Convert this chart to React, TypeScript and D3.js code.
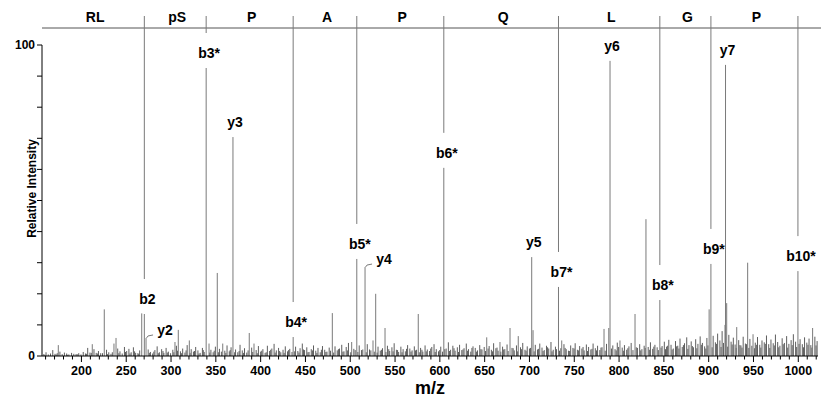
import React from "react";
import * as d3 from "d3";

// ---- data ----
const residues = ["RL", "pS", "P", "A", "P", "Q", "L", "G", "P"];
const bNames = ["b2", "b3*", "b4*", "b5*", "b6*", "b7*", "b8*", "b9*", "b10*"];
const bMz = [270.2, 339.2, 436.3, 507.3, 604.4, 732.4, 845.5, 902.5, 999.6];
const bInt = [13.5, 92.6, 6.1, 31.2, 60.5, 22.2, 18.0, 29.6, 27.3];

const yNames = ["y2", "y3", "y4", "y5", "y6", "y7"];
const yMz = [272.1, 369.1, 516.5, 702.5, 789.9, 918.8];
const yInt = [5.8, 70.4, 28.6, 31.8, 94.9, 93.6];
const yLeader = [true, false, true, false, false, false];

const otherPeaks: [number, number][] = [
  [174.2, 3.5], [212.1, 3.8], [225.5, 15], [236.3, 4], [238.6, 5.8], [267.3, 13.7],
  [304.4, 4.5], [308.1, 8.4], [320.4, 5], [342.4, 4], [351.6, 26.7], [357.7, 4],
  [387.3, 7.4], [392.6, 4], [480, 13.8], [501.6, 4.5], [525.4, 5], [528.4, 20],
  [538.8, 9], [575.9, 13.5], [652.3, 6], [667.1, 4.5], [678.3, 9], [687.5, 6.4],
  [704, 8.3], [736, 5], [783.2, 8.7], [788.5, 9], [801, 5], [817.8, 13.5], [830, 44],
  [900.5, 15], [918.2, 10], [920.1, 17], [931.3, 9.3], [943.5, 30], [949.5, 7], [1016, 9],
];

const noiseA: [number, number][] = [
  [158, 0.6], [160.5, 1.2], [163, 0.5], [165.5, 0.8], [168, 1.9], [170.5, 0.7], [173, 0.9], [176, 1.4],
  [178.5, 0.6], [181, 1.1], [183.5, 0.8], [186, 0.5], [189, 1.0], [191.5, 0.7], [194, 0.6], [197, 0.9],
  [199.5, 0.5], [202, 1.3], [204.5, 0.8], [207, 2.6], [209.5, 1.1], [214, 2.2], [216.5, 1.0], [219, 1.6],
  [221.5, 0.9], [228, 2.0], [230.5, 1.2], [233, 0.7], [240.5, 2.4], [243, 1.5], [245.5, 0.8], [248, 2.9],
  [250.5, 1.6], [253, 2.3], [255.5, 1.2], [258, 2.8], [260.5, 1.0], [263, 0.9], [265, 1.8], [274.5, 2.1],
  [277, 1.3], [279.5, 0.8], [282, 1.9], [284.5, 3.1], [287, 1.2], [289.5, 2.2], [292, 1.0], [294.5, 2.6],
  [297, 1.4], [299.5, 0.9],
];
const noiseB: [number, number][] = [
  [302, 2.0], [306, 3.3], [310.5, 1.5], [313, 2.4], [315.5, 1.1], [318, 3.5], [322.5, 2.2], [325, 1.4],
  [327.5, 2.9], [330, 1.8], [332.5, 1.0], [335, 2.6], [337, 1.3], [344.5, 2.0], [347, 1.2], [349.5, 3.0],
  [354, 2.3], [360, 1.7], [362.5, 3.4], [365, 1.5], [367, 2.8], [372, 2.1], [374.5, 1.2], [377, 3.6],
  [379.5, 1.8], [382, 2.5], [384.5, 1.1], [390, 2.7], [395, 1.9], [397.5, 3.2], [400, 1.4], [402.5, 2.2],
  [405, 1.0], [407.5, 3.3], [410, 1.6], [412.5, 2.4], [415, 3.9], [417.5, 1.8], [420, 2.6], [422.5, 1.2],
  [425, 2.0], [427.5, 3.1], [430, 1.5], [432.5, 2.3], [439, 3.0], [441.5, 1.6], [444, 2.5], [446.5, 4.0],
  [449, 1.9],
];
const noiseC: [number, number][] = [
  [451.5, 2.8], [454, 1.3], [456.5, 2.2], [459, 3.4], [461.5, 1.7], [464, 2.6], [466.5, 1.2], [469, 3.2],
  [471.5, 2.0], [474, 1.4], [476.5, 2.7], [483, 3.1], [485.5, 1.8], [488, 2.4], [490.5, 3.6], [493, 1.5],
  [495.5, 2.9], [498, 4.2], [504, 2.3], [510, 3.4], [512.5, 1.9], [519, 3.8], [521.5, 2.1], [531, 3.0],
  [533.5, 1.7], [536, 2.5], [541.5, 3.3], [544, 1.6], [546.5, 2.8], [549, 4.1], [551.5, 2.0], [554, 1.3],
  [556.5, 3.0], [559, 2.2], [561.5, 1.5], [564, 3.5], [566.5, 2.4], [569, 1.8], [571.5, 3.1], [574, 2.0],
  [578.5, 2.6], [581, 1.4], [583.5, 3.4], [586, 2.1], [588.5, 1.6], [591, 2.9], [593.5, 3.8], [596, 2.2],
  [598.5, 1.5], [601, 3.0], [607, 2.4], [609.5, 4.4], [612, 2.0], [614.5, 3.3], [617, 1.7], [619.5, 2.8],
  [622, 3.6], [624.5, 1.9], [627, 2.5], [629.5, 4.0], [632, 2.2], [634.5, 1.4], [637, 3.1], [639.5, 2.6],
  [642, 1.8], [644.5, 3.5], [647, 2.1], [649.5, 2.9],
];
const noiseD: [number, number][] = [
  [655, 3.2], [657.5, 2.0], [660, 4.1], [662.5, 2.5], [665, 1.7], [670, 3.0], [672.5, 2.2], [675, 3.7],
  [680.5, 2.6], [683, 1.8], [685.5, 3.4], [690, 2.8], [692.5, 4.2], [695, 2.0], [697.5, 3.1], [700, 2.4],
  [706.5, 3.6], [709, 2.1], [711.5, 4.0], [714, 2.7], [716.5, 1.9], [719, 3.3], [721.5, 2.4], [724, 4.5],
  [726.5, 2.0], [729, 3.0], [735, 2.5], [738.5, 3.8], [741, 2.2], [743.5, 1.7], [746, 3.4], [748.5, 2.6],
  [751, 4.1], [753.5, 2.0], [756, 3.2], [758.5, 2.4], [761, 1.8], [763.5, 3.7], [766, 2.9], [768.5, 2.1],
  [771, 4.0], [773.5, 2.5], [776, 3.3], [778.5, 1.9], [781, 2.8], [786, 3.9], [793, 3.4], [795.5, 2.2],
  [798, 4.3], [803.5, 2.7], [806, 3.5], [808.5, 2.0], [811, 3.1], [813.5, 4.2], [820.5, 2.6], [823, 3.8],
  [825.5, 2.2], [828, 3.3], [832.5, 2.9], [835, 4.4], [837.5, 2.3], [840, 3.6], [842.5, 2.8], [848, 3.2],
];
const noiseE: [number, number][] = [
  [850.5, 4.6], [853, 3.0], [855.5, 5.2], [858, 3.6], [860.5, 2.4], [863, 4.8], [865.5, 3.3], [868, 5.6],
  [870.5, 2.9], [873, 4.1], [875.5, 6.0], [878, 3.5], [880.5, 4.7], [883, 2.8], [885.5, 5.4], [888, 3.9],
  [890.5, 6.3], [893, 4.2], [895.5, 3.1], [898, 5.8], [905, 6.5], [907.5, 4.4], [910, 7.2], [912.5, 5.0],
  [915, 8.0], [922.5, 6.8], [925, 4.6], [927.5, 5.9], [929.5, 3.7], [933.5, 5.1], [936, 3.4], [938.5, 6.2],
  [941, 4.0], [946, 5.5], [952, 4.3], [954.5, 6.1], [957, 3.6], [959.5, 5.0], [962, 4.4], [964.5, 6.6],
  [967, 3.8], [969.5, 5.3], [972, 4.1], [974.5, 6.9], [977, 4.5], [979.5, 3.3], [982, 5.7], [984.5, 4.2],
  [987, 6.4], [989.5, 3.9], [992, 5.1], [994.5, 7.0], [997, 4.6], [1002, 5.4], [1004.5, 3.8], [1007, 6.0],
  [1009.5, 4.3], [1012, 5.6], [1014, 3.5], [1018.5, 6.2], [1021, 4.8],
];
// low "grass" between the noise peaks
const grass: [number, number][] = [
  [159.2, 0.4], [171.8, 0.5], [184.7, 0.4], [195.3, 0.6], [205.8, 0.7], [211, 1.0], [217.8, 0.8], [223.5, 0.9],
  [229.2, 0.6], [234.5, 1.2], [241.8, 0.9], [249.2, 1.3], [254.2, 0.8], [259.3, 1.5], [264, 0.7], [275.8, 1.0],
  [280.8, 1.4], [285.8, 0.9], [291, 1.6], [295.8, 1.1], [303.2, 1.2], [307.2, 1.7], [311.8, 0.9], [316.8, 1.8],
  [321.2, 1.0], [326.2, 1.6], [331.2, 0.8], [336, 1.9], [343.2, 1.1], [348.2, 1.7], [352.8, 1.2], [356.2, 1.4],
  [361.2, 1.0], [366, 1.9], [371, 1.2], [376, 1.6], [380.8, 1.0], [386, 1.8], [391.2, 1.3], [396.2, 0.9],
  [401.2, 1.7], [406.2, 1.2], [411.2, 2.0], [416.2, 1.1], [421.2, 1.6], [426.2, 1.0], [431.2, 1.9], [435, 1.3],
  [438, 1.5], [442.8, 1.1], [447.8, 2.1], [452.8, 1.2], [457.8, 1.8], [462.8, 1.0], [467.8, 2.0], [472.8, 1.3],
  [478, 1.7], [481.5, 1.1], [486.8, 2.2], [491.8, 1.4], [496.8, 1.8], [500.5, 1.2], [505.5, 1.9], [508.5, 1.3],
  [514, 2.1], [517.8, 1.2], [523, 1.8], [526.8, 1.4], [530, 1.1], [534.8, 2.0], [539.8, 1.3], [543, 2.2],
  [547.8, 1.5], [552.8, 1.9], [557.8, 1.2], [562.8, 2.3], [567.8, 1.4], [572.8, 1.8], [577, 1.2], [580, 2.0],
  [584.8, 1.5], [589.8, 2.4], [594.8, 1.3], [599.8, 1.9], [603, 1.4], [605.5, 2.2], [610.8, 1.6], [615.8, 2.5],
  [620.8, 1.3], [625.8, 2.1], [630.8, 1.7], [635.8, 2.6], [640.8, 1.4], [645.8, 2.2], [651, 1.6], [653.8, 2.4],
  [658.8, 1.5], [663.8, 2.7], [668, 1.4], [671.2, 2.1], [676.2, 1.6], [681.8, 2.5], [686.8, 1.5], [691.2, 2.2],
  [696.2, 1.7], [701.2, 2.6], [705.2, 1.5], [710.2, 2.3], [715.2, 1.6], [720.2, 2.8], [725.2, 1.5], [730.2, 2.2],
  [733.5, 1.7], [739.8, 2.6], [744.8, 1.6], [749.8, 2.4], [754.8, 1.8], [759.8, 2.9], [764.8, 1.6], [769.8, 2.3],
  [774.8, 1.8], [779.8, 2.7], [784.5, 1.7], [791.5, 2.4], [796.8, 1.8], [799.5, 2.9], [804.8, 1.7], [809.8, 2.5],
  [815.5, 1.9], [819.2, 2.8], [824.2, 1.8], [829.2, 2.6], [833.8, 2.0], [838.8, 3.0], [843.8, 1.9], [846.8, 2.7],
  [851.8, 2.2], [854.2, 3.3], [859.2, 2.1], [864.2, 3.1], [866.8, 2.4], [871.8, 3.5], [876.8, 2.3], [881.8, 3.2],
  [886.8, 2.5], [891.8, 3.6], [896.8, 2.4], [899.2, 3.4], [903.8, 2.8], [908.8, 3.9], [913.8, 2.9], [916.5, 4.2],
  [921.2, 3.0], [926.2, 3.7], [930.8, 2.6], [934.8, 3.5], [937.2, 2.7], [942.2, 3.8], [944.8, 2.6], [948.2, 3.3],
  [951, 2.5], [953.2, 3.6], [958.2, 2.7], [963.2, 3.9], [968.2, 2.6], [973.2, 3.4], [978.2, 2.8], [983.2, 3.8],
  [988.2, 2.7], [993.2, 3.5], [998.2, 2.9], [1000.8, 3.9], [1005.8, 2.8], [1010.8, 3.6], [1015.2, 2.7], [1019.8, 3.4],
];

const xLabelTicks = [200, 250, 300, 350, 400, 450, 500, 550, 600, 650, 700, 750, 800, 850, 900, 950, 1000];
const yLabelTicks = [0, 100];

// ---- layout ----
const W = 821;
const H = 398;
const FONT = "'Liberation Sans', Arial, Helvetica, sans-serif";
const PEAK = "#7a7a7a";

export default function App() {
  const x = d3.scaleLinear().domain([156, 1022]).range([42, 818]);
  const y = d3.scaleLinear().domain([0, 100]).range([356, 45]);
  const base = y(0);

  const noisePeaks: [number, number][] = [...grass, ...noiseA, ...noiseB, ...noiseC, ...noiseD, ...noiseE];
  const mainPeaks: [number, number][] = [
    ...otherPeaks,
    ...bMz.map((m, i) => [m, bInt[i]] as [number, number]),
    ...yMz.map((m, i) => [m, yInt[i]] as [number, number]),
  ];

  const minorTicks = d3.range(160, 1021, 10);
  const yTicks = d3.range(0, 101, 10);
  const bounds = [x.domain()[0], ...bMz];
  const headerY = 28;
  const sepTop = 16;

  return (
    <svg width={W} height={H} style={{ position: "absolute", left: 0, top: 0, background: "#fff" }}
      fontFamily={FONT} fontWeight="bold">
      {/* noise peaks */}
      {noisePeaks.map(([m, v], i) => (
        <line key={"n" + i} x1={x(m)} x2={x(m)} y1={base} y2={y(v)} stroke="#5e5e5e" strokeWidth={1} />
      ))}
      {/* main peaks */}
      {mainPeaks.map(([m, v], i) => (
        <line key={"p" + i} x1={x(m)} x2={x(m)} y1={base} y2={y(v)} stroke={PEAK} strokeWidth={1} />
      ))}

      {/* header */}
      <line x1={42} x2={W} y1={headerY} y2={headerY} stroke="#555" strokeWidth={1} />
      {residues.map((r, i) => (
        <text key={"r" + i} x={(x(bounds[i]) + x(bounds[i + 1])) / 2 + 2} y={22} textAnchor="middle" fontSize={14}>
          {r}
        </text>
      ))}

      {/* b ions: separator line down to label, label above peak */}
      {bMz.map((m, i) => {
        const top = y(bInt[i]);
        const ly = top - 15;
        return (
          <g key={"b" + i}>
            <line x1={x(m)} x2={x(m)} y1={sepTop} y2={ly - 20} stroke={PEAK} strokeWidth={1} />
            <text x={x(m) + 3} y={ly} dy="0.35em" textAnchor="middle" fontSize={14}>{bNames[i]}</text>
          </g>
        );
      })}

      {/* y ions */}
      {yMz.map((m, i) => {
        const px = x(m);
        const top = y(yInt[i]);
        if (yLeader[i]) {
          return (
            <g key={"y" + i}>
              <path d={`M${px + 0.5},${top} L${px + 2},${top - 2} L${px + 7},${top - 3}`} fill="none" stroke={PEAK} />
              <text x={px + 19} y={top - 8} dy="0.35em" textAnchor="middle" fontSize={14}>{yNames[i]}</text>
            </g>
          );
        }
        return (
          <text key={"y" + i} x={px + 2} y={top - 15} dy="0.35em" textAnchor="middle" fontSize={14}>{yNames[i]}</text>
        );
      })}

      {/* y axis */}
      <line x1={42} x2={42} y1={y(100)} y2={base} stroke="#000" strokeWidth={1} />
      {yTicks.map((t) => (
        <line key={"yt" + t} x1={37} x2={42} y1={y(t)} y2={y(t)} stroke="#000" strokeWidth={1} />
      ))}
      {yLabelTicks.map((t) => (
        <text key={"yl" + t} x={35} y={y(t)} dy="0.35em" textAnchor="end" fontSize={12}>{t}</text>
      ))}
      <text transform={`translate(32,${(y(0) + y(100)) / 2 - 12}) rotate(-90)`} textAnchor="middle" dy="0.35em" fontSize={12}>
        Relative Intensity
      </text>

      {/* x axis */}
      <line x1={42} x2={818} y1={base} y2={base} stroke="#000" strokeWidth={1} />
      {minorTicks.map((t) => (
        <line key={"xt" + t} x1={x(t)} x2={x(t)} y1={base} y2={base + (t % 50 === 0 ? 6 : 3.5)} stroke="#000" strokeWidth={1} />
      ))}
      {xLabelTicks.map((t) => (
        <text key={"xl" + t} x={x(t)} y={375} textAnchor="middle" fontSize={12.5}>{t}</text>
      ))}
      <text x={430} y={394} textAnchor="middle" fontSize={18}>m/z</text>
    </svg>
  );
}
